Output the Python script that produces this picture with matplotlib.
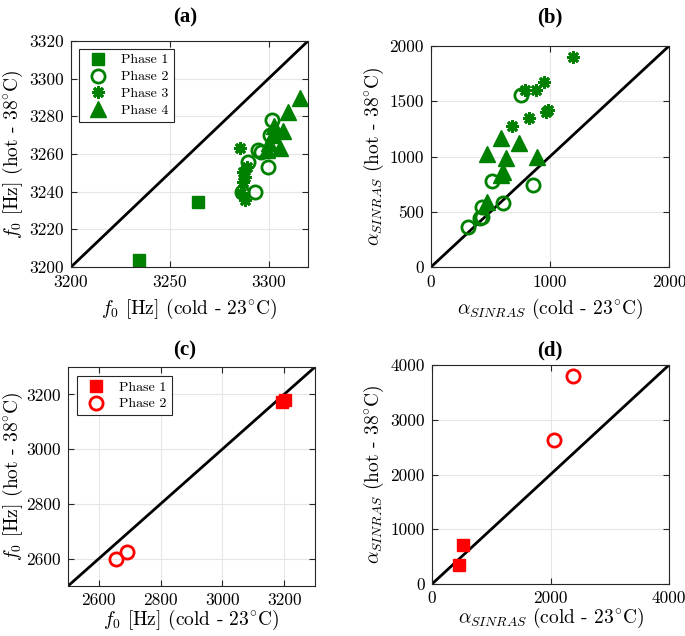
import matplotlib
matplotlib.use("Agg")
import matplotlib.pyplot as plt
import numpy as np

plt.rcParams['font.family'] = ['cmr10', 'DejaVu Serif']
plt.rcParams['mathtext.fontset'] = 'cm'
plt.rcParams['axes.unicode_minus'] = False

GREEN = '#008000'
RED = '#ff0000'

# ---- panel (a): f0 values, experiment 1 ----
a_p1_x = [3234.3, 3264.5]
a_p1_y = [3203.5, 3234.4]
a_p2_x = [3301.9, 3299.9, 3293.2, 3286.7, 3296.2, 3294.5, 3289.8, 3300.8]
a_p2_y = [3278.0, 3253.1, 3239.7, 3239.7, 3261.2, 3262.0, 3255.9, 3270.0]
a_p3_x = [3285.6, 3287.2, 3288.1, 3288.1, 3286.1, 3287.0, 3289.0]
a_p3_y = [3263.4, 3250.6, 3248.0, 3235.6, 3239.1, 3245.0, 3253.0]
a_p4_x = [3316.0, 3310.0, 3307.5, 3302.4, 3305.8, 3300.5, 3299.0, 3303.0]
a_p4_y = [3290.0, 3282.5, 3272.2, 3270.0, 3263.4, 3266.0, 3262.0, 3275.0]

# ---- panel (b): alpha SINRAS, experiment 1 ----
b_p2_x = [314, 412, 426, 426, 510, 608, 860, 754]
b_p2_y = [359, 441, 455, 540, 781, 576, 742, 1557]
b_p3_x = [1196, 952, 882, 790, 985, 965, 823, 683]
b_p3_y = [1903, 1677, 1602, 1602, 1420, 1405, 1345, 1279]
b_p4_x = [588, 740, 468, 630, 888, 602, 590, 468]
b_p4_y = [1165, 1119, 1023, 983, 998, 862, 830, 591]

# ---- panel (c): f0 values, experiment 2 ----
c_p1_x = [3192, 3203]
c_p1_y = [3173, 3178]
c_p2_x = [2655, 2690]
c_p2_y = [2597, 2625]

# ---- panel (d): alpha SINRAS, experiment 2 ----
d_p1_x = [450, 529]
d_p1_y = [347, 713]
d_p2_x = [2059, 2374]
d_p2_y = [2630, 3799]

W, H = 685, 636
fig = plt.figure(figsize=(6.85, 6.36), dpi=100)

def fpos(l, t, r, b):
    return [l / W, 1 - b / H, (r - l) / W, (b - t) / H]

ax_a = fig.add_axes(fpos(71, 41, 308, 267))
ax_b = fig.add_axes(fpos(431, 46, 669, 267))
ax_c = fig.add_axes(fpos(68, 367, 315, 586))
ax_d = fig.add_axes(fpos(432, 365, 669, 584))

sq = dict(marker='s', ms=8.5, linestyle='none')
circ = dict(marker='o', ms=9.5, mfc='none', mew=2, linestyle='none')
ast = dict(marker=(8, 2, 0), ms=9, mew=2.0, linestyle='none')
tri = dict(marker='^', ms=11, linestyle='none')

def style(ax, lim, ticks, xticks=None, xpad=5.5):
    ax.set_xlim(lim)
    ax.set_ylim(lim)
    ax.plot(lim, lim, color='black', lw=2, zorder=1)
    ax.set_xticks(xticks if xticks is not None else ticks)
    ax.set_yticks(ticks)
    ax.grid(True, color='#e6e6e6', lw=0.8)
    ax.set_axisbelow(True)
    ax.tick_params(direction='in', top=True, right=True, labelsize=12.5,
                   length=4, color='#262626')
    ax.tick_params(axis='x', pad=xpad)
    ax.tick_params(axis='y', pad=5)
    for s in ax.spines.values():
        s.set_color('#262626')
        s.set_linewidth(0.8)

def add_legend(ax, anchor):
    leg = ax.legend(loc='upper left', fontsize=10, fancybox=False, edgecolor='#262626',
                    framealpha=1, borderpad=0.35, labelspacing=0.3, handletextpad=0.7,
                    borderaxespad=0, bbox_to_anchor=anchor)
    leg.get_frame().set_linewidth(0.8)

# (a)
style(ax_a, (3200, 3320), [3200, 3220, 3240, 3260, 3280, 3300, 3320], [3200, 3250, 3300])
ax_a.plot(a_p1_x, a_p1_y, color=GREEN, label='Phase 1', **sq)
ax_a.plot(a_p2_x, a_p2_y, color=GREEN, label='Phase 2', **circ)
ax_a.plot(a_p3_x, a_p3_y, color=GREEN, label='Phase 3', **ast)
ax_a.plot(a_p4_x, a_p4_y, color=GREEN, label='Phase 4', **tri)
add_legend(ax_a, (0.034, 0.965))

# (b)
style(ax_b, (0, 2000), [0, 500, 1000, 1500, 2000], [0, 1000, 2000])
ax_b.plot(b_p2_x, b_p2_y, color=GREEN, **circ)
ax_b.plot(b_p3_x, b_p3_y, color=GREEN, **ast)
ax_b.plot(b_p4_x, b_p4_y, color=GREEN, **tri)

# (c)
style(ax_c, (2500, 3300), [2600, 2800, 3000, 3200], xpad=4.5)
ax_c.plot(c_p1_x, c_p1_y, color=RED, label='Phase 1', **sq)
ax_c.plot(c_p2_x, c_p2_y, color=RED, label='Phase 2', **circ)
add_legend(ax_c, (0.036, 0.959))

# (d)
style(ax_d, (0, 4000), [0, 1000, 2000, 3000, 4000], [0, 2000, 4000], xpad=4.5)
ax_d.plot(d_p1_x, d_p1_y, color=RED, **sq)
ax_d.plot(d_p2_x, d_p2_y, color=RED, **circ)

f_cold = r'$f_0$ [Hz] (cold - 23$^{\circ}$C)'
f_hot = r'$f_0$ [Hz] (hot - 38$^{\circ}$C)'
a_cold = r'$\alpha_{SINRAS}$ (cold - 23$^{\circ}$C)'
a_hot = r'$\alpha_{SINRAS}$ (hot - 38$^{\circ}$C)'

for ax, xl, yl, yedge, lp in [(ax_a, f_cold, f_hot, 25, 5), (ax_b, a_cold, a_hot, 386, 5),
                              (ax_c, f_cold, f_hot, 25, 0.5), (ax_d, a_cold, a_hot, 386, 0.5)]:
    ax.set_xlabel(xl, fontsize=14, labelpad=lp)
    ax.set_ylabel(yl, fontsize=14)
    bb = ax.get_position()
    ax.yaxis.set_label_coords(yedge / W, bb.y0 + bb.height / 2, transform=fig.transFigure)

tkw = dict(fontsize=15, fontweight='bold', family='Liberation Serif', ha='center', va='center')
fig.text(185 / W, 1 - 17 / H, '(a)', **tkw)
fig.text(550 / W, 1 - 17 / H, '(b)', **tkw)
fig.text(185 / W, 1 - 350 / H, '(c)', **tkw)
fig.text(550 / W, 1 - 350 / H, '(d)', **tkw)

fig.savefig('out.png', dpi=100)
